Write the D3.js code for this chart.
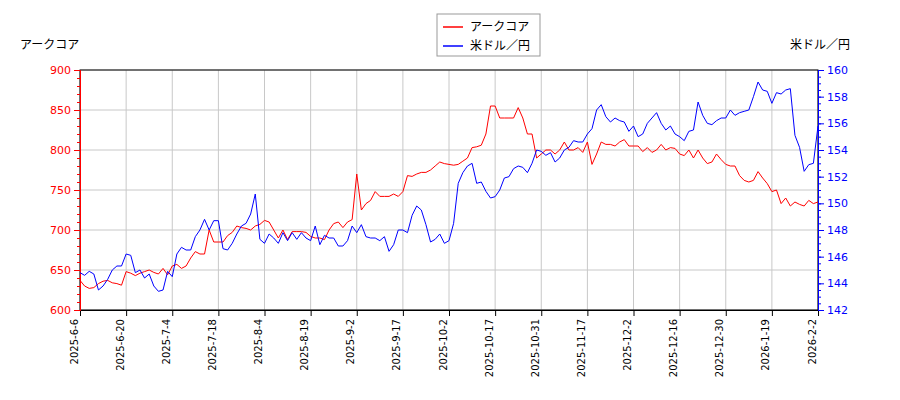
<!DOCTYPE html><html><head><meta charset="utf-8"><script src="https://cdn.jsdelivr.net/npm/d3@7"></script>
<style>body{margin:0;background:#fff}text{font-family:"DejaVu Sans",sans-serif}</style></head><body><svg id="c" width="900" height="400"></svg>
<script>
const tickLabels=["2025-6-6","2025-6-20","2025-7-4","2025-7-18","2025-8-4","2025-8-19","2025-9-2","2025-9-17","2025-10-2","2025-10-17","2025-10-31","2025-11-17","2025-12-2","2025-12-16","2025-12-30","2026-1-19","2026-2-2"];
const tickIndex=[0,10,20,30,40,50,60,70,80,90,100,110,120,130,140,150,160];
const stock=[637,630,627,628,633,636,637,634,633,631,648,646,643,646,648,650,647,645,652,644,
655,657,652,655,665,673,670,670,700,685,685,685,693,697,705,703,702,700,705,707,
712,710,700,690,700,688,698,698,698,697,692,690,690,688,700,708,710,703,710,713,
770,725,733,737,748,742,742,742,745,742,748,768,767,770,772,772,775,780,785,783,
782,781,782,786,790,803,804,806,820,855,855,840,840,840,840,853,840,820,820,790,
795,800,800,795,800,810,800,800,803,797,810,782,795,810,807,807,805,810,813,805,
805,805,798,803,797,800,807,800,803,802,795,793,800,790,800,790,783,785,795,788,
782,780,780,768,762,760,762,773,765,758,748,750,733,740,730,735,732,730,737,733,735];
const usdjpy=[144.8,144.6,144.9,144.7,143.5,143.8,144.3,145.0,145.3,145.3,146.2,146.1,144.8,145.0,144.4,144.7,143.8,143.4,143.5,144.9,
144.5,146.2,146.7,146.5,146.5,147.5,148.0,148.8,148.0,148.7,148.7,146.6,146.5,147.0,147.7,148.3,148.5,149.2,150.7,147.3,
147.0,147.7,147.4,147.0,147.8,147.2,147.8,147.3,147.8,147.4,147.2,148.3,146.9,147.6,147.4,147.4,146.8,146.8,147.2,148.3,
147.8,148.4,147.5,147.4,147.4,147.2,147.5,146.4,146.9,148.0,148.0,147.8,149.1,149.8,149.5,148.4,147.1,147.3,147.7,147.0,
147.2,148.5,151.5,152.3,152.8,153.0,151.5,151.6,150.9,150.4,150.5,151.0,151.9,152.0,152.6,152.8,152.7,152.3,153.0,154.0,
153.9,153.6,153.8,153.1,153.4,154.0,154.2,154.7,154.6,154.6,155.2,155.6,157.0,157.4,156.5,156.1,156.4,156.2,156.1,155.4,
155.8,155.0,155.2,156.0,156.4,156.8,156.0,155.5,155.8,155.2,155.0,154.7,155.4,155.5,157.6,156.6,156.0,155.9,156.2,156.4,
156.4,157.0,156.6,156.8,156.9,157.0,158.0,159.1,158.5,158.4,157.5,158.3,158.2,158.5,158.6,155.1,154.2,152.4,152.9,153.0,155.8];
const leftTicks=[600,650,700,750,800,850,900], rightTicks=[142,144,146,148,150,152,154,156,158,160];
const L=80,R=818,T=70,B=310;
const svg=d3.select("#c");
const x=d3.scaleLinear().domain([0,160]).range([L,R]);
const yl=d3.scaleLinear().domain([600,900]).range([B,T]);
const yr=d3.scaleLinear().domain([142,160]).range([B,T]);
const g=svg.append("g");
tickIndex.forEach(i=>g.append("line").attr("x1",x(i)).attr("x2",x(i)).attr("y1",T).attr("y2",B).attr("stroke","#c8c8c8"));
leftTicks.forEach(v=>g.append("line").attr("x1",L).attr("x2",R).attr("y1",yl(v)).attr("y2",yl(v)).attr("stroke","#c8c8c8"));
svg.append("rect").attr("x",L).attr("y",T).attr("width",R-L).attr("height",B-T).attr("fill","none").attr("stroke","#000");
const ax=svg.append("g").attr("transform",`translate(0,${B})`).call(d3.axisBottom(x).tickValues(tickIndex).tickFormat((d,i)=>tickLabels[i]).tickSizeOuter(0));
ax.selectAll("text").attr("transform","rotate(-90)").attr("text-anchor","end").attr("dx","-0.5em").attr("dy","-0.3em").attr("x",-4).attr("y",0).style("font-size","10px");
const al=svg.append("g").attr("transform",`translate(${L},0)`).call(d3.axisLeft(yl).tickValues(leftTicks).tickSizeOuter(0));
al.selectAll("line,path").attr("stroke","red");al.selectAll("text").attr("fill","red").style("font-size","11px");
al.append("g").call(d3.axisLeft(yl).ticks(30).tickFormat("").tickSize(3)).selectAll("line,path").attr("stroke","red");
const ar=svg.append("g").attr("transform",`translate(${R},0)`).call(d3.axisRight(yr).tickValues(rightTicks).tickSizeOuter(0));
ar.selectAll("line,path").attr("stroke","blue");ar.selectAll("text").attr("fill","blue").style("font-size","11px");
ar.append("g").call(d3.axisRight(yr).ticks(36).tickFormat("").tickSize(3)).selectAll("line,path").attr("stroke","blue");
svg.append("path").datum(stock).attr("fill","none").attr("stroke","red").attr("stroke-width",1).attr("d",d3.line().x((d,i)=>x(i)).y(d=>yl(d)));
svg.append("path").datum(usdjpy).attr("fill","none").attr("stroke","blue").attr("stroke-width",1).attr("d",d3.line().x((d,i)=>x(i)).y(d=>yr(d)));
svg.append("text").attr("x",20).attr("y",49).text("アークコア").style("font-size","12px").style("font-family","Noto Sans CJK JP");
svg.append("text").attr("x",850).attr("y",49).attr("text-anchor","end").text("米ドル／円").style("font-size","12px").style("font-family","Noto Sans CJK JP");
const lg=svg.append("g");
lg.append("rect").attr("x",437).attr("y",14).attr("width",103).attr("height",42).attr("fill","#fff").attr("stroke","#999");
[["アークコア","red",27],["米ドル／円","blue",46]].forEach(([t,c,yy])=>{lg.append("line").attr("x1",443).attr("x2",463).attr("y1",yy).attr("y2",yy).attr("stroke",c).attr("stroke-width",1.5);
lg.append("text").attr("x",470).attr("y",yy+4).text(t).style("font-size","12px").style("font-family","Noto Sans CJK JP");});
</script></body></html>
